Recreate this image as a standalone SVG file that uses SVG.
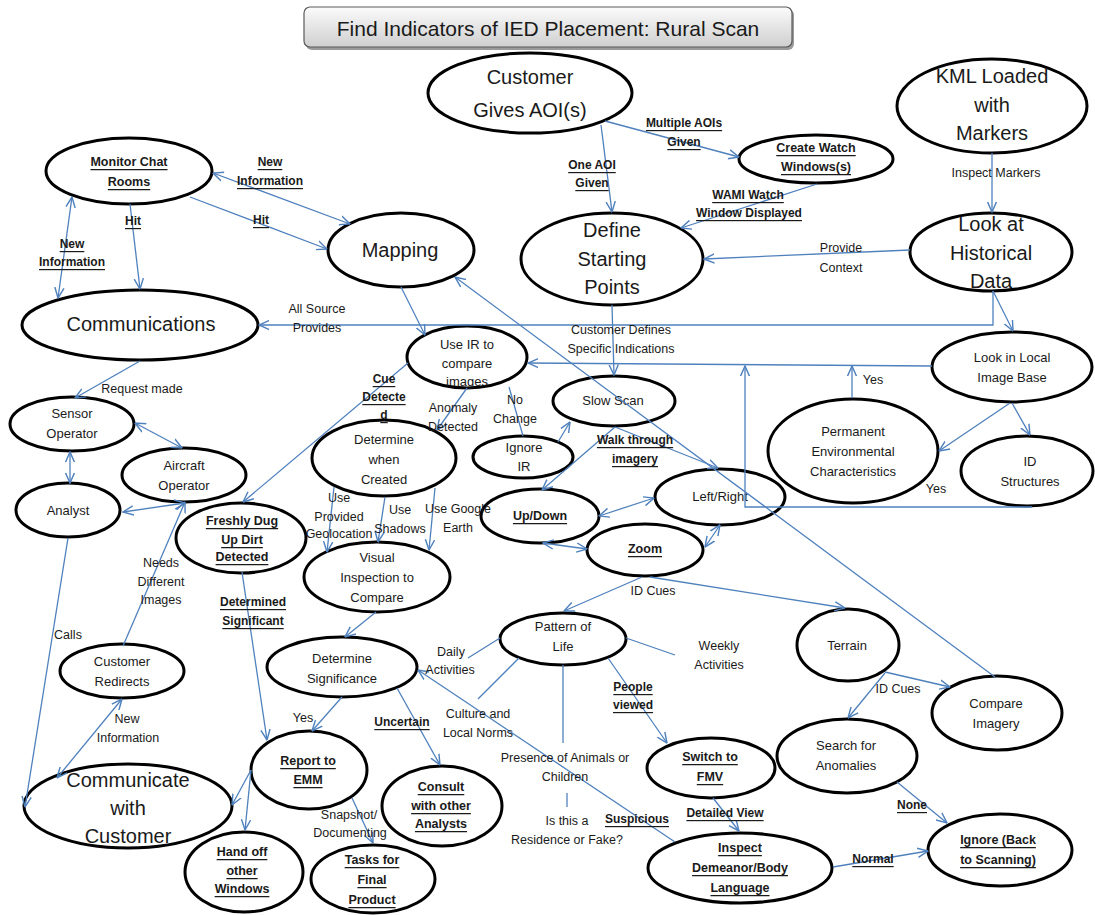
<svg xmlns="http://www.w3.org/2000/svg" width="1095" height="915" viewBox="0 0 1095 915">
<style>
text{font-family:"Liberation Sans",Arial,sans-serif;fill:#1a1a1a;text-anchor:middle;dominant-baseline:central}
.n ellipse{fill:#fff;stroke:#000;stroke-width:3}
.L{font-size:20px}
.M{font-size:13px}
.B{font-size:12.5px;font-weight:bold;text-decoration:underline}
.r{font-size:12.5px}
.b{font-size:12px;font-weight:bold;text-decoration:underline}
.c path{fill:none;stroke:#4F81BD;stroke-width:1.3}
.c .e{marker-end:url(#ah)}
.c .d{marker-start:url(#ah);marker-end:url(#ah)}
</style>
<defs>
<marker id="ah" viewBox="0 0 10 10" refX="9.5" refY="5" markerWidth="11" markerHeight="11" markerUnits="userSpaceOnUse" orient="auto-start-reverse">
<path d="M0,0.8 L9.5,5 L0,9.2" fill="none" stroke="#4F81BD" stroke-width="1.3"/>
</marker>
<linearGradient id="tg" x1="0" y1="0" x2="0" y2="1">
<stop offset="0" stop-color="#fbfbfb"/><stop offset="1" stop-color="#cfcfcf"/>
</linearGradient>
</defs>
<rect width="1095" height="915" fill="#fff"/>
<g id="title">
<rect x="306" y="9" width="488" height="41" rx="6" fill="#9a9a9a"/>
<rect x="304" y="7" width="488" height="40" rx="6" fill="url(#tg)" stroke="#5a5a5a" stroke-width="1.2"/>
<text x="548" y="28" style="font-size:21px">Find Indicators of IED Placement: Rural Scan</text>
</g>
<g id="customer-gives-aoi" class="n"><ellipse cx="530" cy="93" rx="102" ry="40"/><text class="L" x="530" y="77">Customer</text><text class="L" x="530" y="110">Gives AOI(s)</text></g>
<g id="kml-loaded" class="n"><ellipse cx="992" cy="106" rx="95" ry="47"/><text class="L" x="992" y="76">KML Loaded</text><text class="L" x="992" y="105">with</text><text class="L" x="992" y="133">Markers</text></g>
<g id="create-watch-windows" class="n"><ellipse cx="816" cy="159" rx="77" ry="24"/><text class="B" x="816" y="148">Create Watch</text><text class="B" x="816" y="167">Windows(s)</text></g>
<g id="monitor-chat-rooms" class="n"><ellipse cx="129" cy="171" rx="83" ry="33"/><text class="B" x="129" y="162">Monitor Chat</text><text class="B" x="129" y="182">Rooms</text></g>
<g id="mapping" class="n"><ellipse cx="401" cy="250" rx="73" ry="37"/><text class="L" x="400" y="250">Mapping</text></g>
<g id="define-starting-points" class="n"><ellipse cx="612" cy="259" rx="91" ry="46"/><text class="L" x="612" y="230">Define</text><text class="L" x="612" y="259">Starting</text><text class="L" x="612" y="287">Points</text></g>
<g id="look-at-historical-data" class="n"><ellipse cx="991" cy="252" rx="81" ry="39"/><text class="L" x="991" y="224">Look at</text><text class="L" x="991" y="253">Historical</text><text class="L" x="991" y="281">Data</text></g>
<g id="communications" class="n"><ellipse cx="140" cy="325" rx="118" ry="35"/><text class="L" x="141" y="324">Communications</text></g>
<g id="use-ir" class="n"><ellipse cx="467" cy="357" rx="60" ry="31"/><text class="M" x="467" y="344">Use IR to</text><text class="M" x="467" y="363">compare</text><text class="M" x="467" y="381">images</text></g>
<g id="slow-scan" class="n"><ellipse cx="614" cy="401" rx="61" ry="25"/><text class="M" x="613" y="400">Slow Scan</text></g>
<g id="look-in-local-image-base" class="n"><ellipse cx="1012" cy="367" rx="80" ry="35"/><text class="M" x="1012" y="357">Look in Local</text><text class="M" x="1012" y="377">Image Base</text></g>
<g id="permanent-environmental" class="n"><ellipse cx="853" cy="451" rx="85" ry="52"/><text class="M" x="853" y="431">Permanent</text><text class="M" x="853" y="451">Environmental</text><text class="M" x="853" y="471">Characteristics</text></g>
<g id="id-structures" class="n"><ellipse cx="1027" cy="471" rx="66" ry="35"/><text class="M" x="1030" y="461">ID</text><text class="M" x="1030" y="481">Structures</text></g>
<g id="sensor-operator" class="n"><ellipse cx="72" cy="424" rx="62" ry="27"/><text class="M" x="72" y="413">Sensor</text><text class="M" x="72" y="433">Operator</text></g>
<g id="aircraft-operator" class="n"><ellipse cx="184" cy="475" rx="62" ry="27"/><text class="M" x="184" y="465">Aircraft</text><text class="M" x="184" y="485">Operator</text></g>
<g id="analyst" class="n"><ellipse cx="68" cy="510" rx="52" ry="27"/><text class="M" x="68" y="510">Analyst</text></g>
<g id="determine-when-created" class="n"><ellipse cx="384" cy="458" rx="72" ry="38"/><text class="M" x="384" y="439">Determine</text><text class="M" x="384" y="459">when</text><text class="M" x="384" y="479">Created</text></g>
<g id="ignore-ir" class="n"><ellipse cx="523" cy="457" rx="50" ry="21"/><text class="M" x="524" y="447">Ignore</text><text class="M" x="524" y="466">IR</text></g>
<g id="freshly-dug" class="n"><ellipse cx="241" cy="538" rx="65" ry="35"/><text class="B" x="242" y="521">Freshly Dug</text><text class="B" x="242" y="540">Up Dirt</text><text class="B" x="242" y="557">Detected</text></g>
<g id="visual-inspection" class="n"><ellipse cx="377" cy="577" rx="73" ry="35"/><text class="M" x="377" y="557">Visual</text><text class="M" x="377" y="577">Inspection to</text><text class="M" x="377" y="597">Compare</text></g>
<g id="up-down" class="n"><ellipse cx="540" cy="516" rx="59" ry="27"/><text class="B" x="540" y="516">Up/Down</text></g>
<g id="left-right" class="n"><ellipse cx="720" cy="497" rx="65" ry="28"/><text class="M" x="720" y="496">Left/Right</text></g>
<g id="zoom" class="n"><ellipse cx="645" cy="550" rx="58" ry="26"/><text class="B" x="645" y="549">Zoom</text></g>
<g id="pattern-of-life" class="n"><ellipse cx="563" cy="639" rx="63" ry="26"/><text class="M" x="563" y="626">Pattern of</text><text class="M" x="563" y="646">Life</text></g>
<g id="terrain" class="n"><ellipse cx="848" cy="645" rx="51" ry="36"/><text class="M" x="847" y="645">Terrain</text></g>
<g id="compare-imagery" class="n"><ellipse cx="997" cy="713" rx="65" ry="37"/><text class="M" x="996" y="703">Compare</text><text class="M" x="996" y="723">Imagery</text></g>
<g id="determine-significance" class="n"><ellipse cx="342" cy="667" rx="75" ry="30"/><text class="M" x="342" y="658">Determine</text><text class="M" x="342" y="678">Significance</text></g>
<g id="customer-redirects" class="n"><ellipse cx="122" cy="671" rx="62" ry="27"/><text class="M" x="122" y="661">Customer</text><text class="M" x="122" y="681">Redirects</text></g>
<g id="search-for-anomalies" class="n"><ellipse cx="847" cy="756" rx="70" ry="37"/><text class="M" x="846" y="745">Search for</text><text class="M" x="846" y="765">Anomalies</text></g>
<g id="report-to-emm" class="n"><ellipse cx="309" cy="770" rx="58" ry="39"/><text class="B" x="308" y="761">Report to</text><text class="B" x="308" y="780">EMM</text></g>
<g id="switch-to-fmv" class="n"><ellipse cx="711" cy="768" rx="64" ry="30"/><text class="B" x="710" y="757">Switch to</text><text class="B" x="710" y="777">FMV</text></g>
<g id="consult-analysts" class="n"><ellipse cx="442" cy="806" rx="60" ry="40"/><text class="B" x="441" y="787">Consult</text><text class="B" x="441" y="806">with other</text><text class="B" x="441" y="824">Analysts</text></g>
<g id="communicate-with-customer" class="n"><ellipse cx="128" cy="806" rx="104" ry="42"/><text class="L" x="128" y="780">Communicate</text><text class="L" x="128" y="808">with</text><text class="L" x="128" y="836">Customer</text></g>
<g id="ignore-back-to-scanning" class="n"><ellipse cx="1000" cy="850" rx="72" ry="36"/><text class="B" x="998" y="840">Ignore (Back</text><text class="B" x="998" y="860">to Scanning)</text></g>
<g id="hand-off-other-windows" class="n"><ellipse cx="244" cy="872" rx="59" ry="40"/><text class="B" x="242" y="852">Hand off</text><text class="B" x="242" y="871">other</text><text class="B" x="242" y="889">Windows</text></g>
<g id="tasks-for-final-product" class="n"><ellipse cx="373" cy="879" rx="62" ry="34"/><text class="B" x="372" y="860">Tasks for</text><text class="B" x="372" y="880">Final</text><text class="B" x="372" y="900">Product</text></g>
<g id="inspect-demeanor" class="n"><ellipse cx="740" cy="868" rx="92" ry="35"/><text class="B" x="740" y="848">Inspect</text><text class="B" x="740" y="868">Demeanor/Body</text><text class="B" x="740" y="888">Language</text></g>
<g id="connectors" class="c">
<path class="e" d="M601,125 L612,212"/>
<path class="e" d="M605,121 L739,157"/>
<path class="e" d="M817,184 L681,228"/>
<path class="e" d="M992,153 L992,212"/>
<path class="e" d="M910,250 L704,259"/>
<path class="e" d="M993,291 L993,325 L259,325"/>
<path class="e" d="M993,291 L1013,331"/>
<path class="e" d="M612,305 L614,375"/>
<path class="e" d="M932,366 L528,363"/>
<path class="e" d="M852,398 L852,366"/>
<path class="e" d="M1032,507 L745,507 L745,366"/>
<path class="e" d="M1010,403 L939,451"/>
<path class="e" d="M1012,403 L1030,435"/>
<path class="d" d="M213,173 L350,224"/>
<path class="e" d="M190,197 L327,249"/>
<path class="e" d="M130,204 L140,289"/>
<path class="d" d="M72,197 L58,298"/>
<path class="e" d="M401,287 L425,335"/>
<path class="e" d="M995,677 L455,277"/>
<path class="e" d="M408,363 L243,502"/>
<path class="e" d="M467,388 L437,430"/>
<path d="M523,436 L509,387"/>
<path class="e" d="M558,442 L570,422"/>
<path class="e" d="M615,427 L542,490"/>
<path class="e" d="M615,427 L718,468"/>
<path class="d" d="M599,516 L654,498"/>
<path class="d" d="M543,543 L587,549"/>
<path class="d" d="M705,547 L720,525"/>
<path class="e" d="M642,577 L564,611"/>
<path class="e" d="M650,577 L845,608"/>
<path class="e" d="M885,672 L950,687"/>
<path class="e" d="M885,673 L848,718"/>
<path class="e" d="M897,782 L947,823"/>
<path class="e" d="M833,867 L928,851"/>
<path class="e" d="M713,798 L739,831"/>
<path class="e" d="M608,658 L667,743"/>
<path d="M500,638 L468,658"/>
<path d="M626,638 L675,655"/>
<path d="M519,658 L478,699"/>
<path d="M563,665 L563,743"/>
<path d="M567,793 L567,807"/>
<path class="e" d="M675,842 L418,670"/>
<path class="e" d="M376,612 L345,637"/>
<path class="e" d="M334,487 L327,552"/>
<path class="e" d="M385,497 L378,542"/>
<path class="e" d="M435,488 L429,550"/>
<path class="e" d="M242,572 L267,740"/>
<path class="e" d="M342,697 L312,731"/>
<path class="e" d="M397,688 L440,765"/>
<path class="e" d="M352,798 L373,843"/>
<path class="e" d="M251,770 L245,830"/>
<path class="e" d="M251,770 L232,805"/>
<path class="e" d="M140,361 L75,398"/>
<path class="d" d="M135,423 L182,448"/>
<path class="d" d="M70,452 L70,483"/>
<path class="d" d="M123,512 L185,503"/>
<path class="e" d="M123,646 L185,502"/>
<path class="e" d="M68,538 L25,807"/>
<path class="d" d="M57,778 L122,699"/>
</g>
<g id="labels">
<text class="b" x="592" y="165">One AOI</text><text class="b" x="592" y="183">Given</text>
<text class="b" x="684" y="123">Multiple AOIs</text><text class="b" x="684" y="142">Given</text>
<text class="b" x="748" y="195">WAMI Watch</text><text class="b" x="749" y="213">Window Displayed</text>
<text class="r" x="996" y="173">Inspect Markers</text>
<text class="r" x="841" y="248">Provide</text><text class="r" x="841" y="268">Context</text>
<text class="r" x="317" y="309">All Source</text><text class="r" x="317" y="328">Provides</text>
<text class="r" x="621" y="330">Customer Defines</text><text class="r" x="621" y="349">Specific Indications</text>
<text class="r" x="873" y="380">Yes</text>
<text class="r" x="936" y="489">Yes</text>
<text class="b" x="270" y="162">New</text><text class="b" x="270" y="181">Information</text>
<text class="b" x="261" y="220">Hit</text>
<text class="b" x="133" y="221">Hit</text>
<text class="b" x="72" y="244">New</text><text class="b" x="72" y="262">Information</text>
<text class="b" x="384" y="379">Cue</text><text class="b" x="384" y="397">Detecte</text><text class="b" x="384" y="415">d</text>
<text class="r" x="453" y="408">Anomaly</text><text class="r" x="453" y="427">Detected</text>
<text class="r" x="515" y="400">No</text><text class="r" x="515" y="419">Change</text>
<text class="b" x="635" y="440">Walk through</text><text class="b" x="635" y="459">imagery</text>
<text class="r" x="653" y="591">ID Cues</text>
<text class="r" x="898" y="689">ID Cues</text>
<text class="b" x="912" y="805">None</text>
<text class="b" x="873" y="859">Normal</text>
<text class="b" x="725" y="813">Detailed View</text>
<text class="b" x="633" y="687">People</text><text class="b" x="633" y="705">viewed</text>
<text class="r" x="451" y="652">Daily</text><text class="r" x="450" y="670">Activities</text>
<text class="r" x="719" y="646">Weekly</text><text class="r" x="719" y="665">Activities</text>
<text class="r" x="478" y="714">Culture and</text><text class="r" x="478" y="733">Local Norms</text>
<text class="r" x="565" y="758">Presence of Animals or</text><text class="r" x="565" y="777">Children</text>
<text class="r" x="567" y="821">Is this a</text><text class="r" x="567" y="840">Residence or Fake?</text>
<text class="b" x="637" y="819">Suspicious</text>
<text class="r" x="339" y="498">Use</text><text class="r" x="339" y="517">Provided</text><text class="r" x="339" y="534">Geolocation</text>
<text class="r" x="400" y="510">Use</text><text class="r" x="400" y="529">Shadows</text>
<text class="r" x="458" y="509">Use Google</text><text class="r" x="458" y="528">Earth</text>
<text class="b" x="253" y="602">Determined</text><text class="b" x="253" y="621">Significant</text>
<text class="r" x="303" y="718">Yes</text>
<text class="b" x="402" y="722">Uncertain</text>
<text class="r" x="349" y="815">Snapshot/</text><text class="r" x="350" y="833">Documenting</text>
<text class="r" x="142" y="389">Request made</text>
<text class="r" x="161" y="563">Needs</text><text class="r" x="161" y="582">Different</text><text class="r" x="161" y="600">Images</text>
<text class="r" x="68" y="635">Calls</text>
<text class="r" x="127" y="719">New</text><text class="r" x="128" y="738">Information</text>
</g>
</svg>
